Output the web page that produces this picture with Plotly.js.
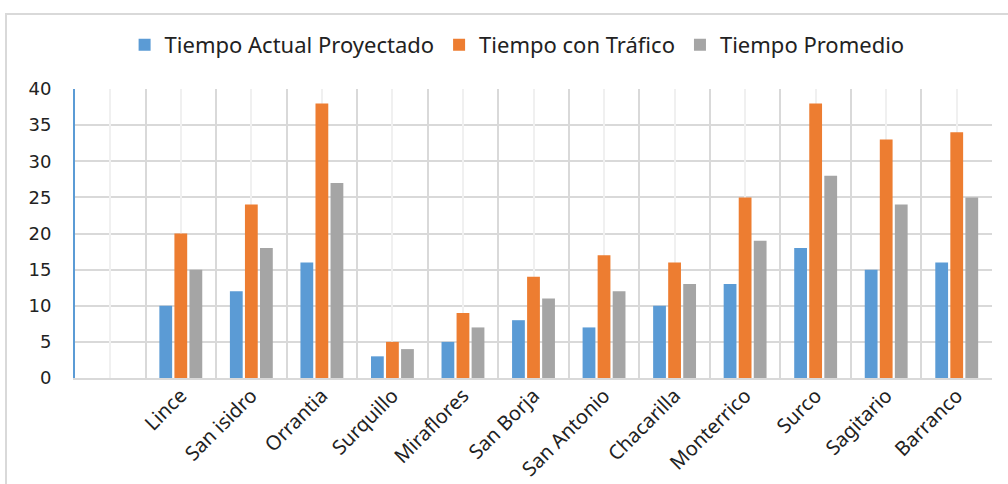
<!DOCTYPE html>
<html>
<head>
<meta charset="utf-8">
<script src="https://cdn.plot.ly/plotly-3.0.1.min.js"></script>
<style>
html,body{margin:0;padding:0;background:#fff;overflow:hidden;}
#frame{position:absolute;left:5px;top:13px;width:1100px;height:600px;border-left:2px solid #d9d9d9;border-top:2px solid #d9d9d9;}
#chart{position:absolute;left:0;top:0;width:1008px;height:484px;}
</style>
</head>
<body>
<div id="frame"></div>
<div id="chart"></div>
<script>
var categories = [" ", "Lince", "San isidro", "Orrantia", "Surquillo", "Miraflores", "San Borja", "San Antonio", "Chacarilla", "Monterrico", "Surco", "Sagitario", "Barranco"];
var tiempoActual = [null, 10, 12, 16, 3, 5, 8, 7, 10, 13, 18, 15, 16];
var tiempoTrafico = [null, 20, 24, 38, 5, 9, 14, 17, 16, 25, 38, 33, 34];
var tiempoPromedio = [null, 15, 18, 27, 4, 7, 11, 12, 13, 19, 28, 24, 25];
var seriesNames = ["Tiempo Actual Proyectado", "Tiempo con Tráfico", "Tiempo Promedio"];
var yTicks = [0, 5, 10, 15, 20, 25, 30, 35, 40];

var colors = ["#5B9BD5", "#ED7D31", "#A5A5A5"];
var series = [tiempoActual, tiempoTrafico, tiempoPromedio];
var data = series.map(function(v, i){
  return {type:"bar", x:categories, y:v, name:seriesNames[i], marker:{color:colors[i]}, hoverinfo:"skip"};
});
data.push({type:"scatter", x:categories, y:categories.map(function(){return null;}), xaxis:"x2", yaxis:"y", showlegend:false, hoverinfo:"skip", mode:"markers"});

var layout = {
  width:1008, height:484,
  paper_bgcolor:"rgba(0,0,0,0)", plot_bgcolor:"rgba(0,0,0,0)",
  margin:{l:75, r:16, t:89, b:106},
  barmode:"group", bargap:0.36, bargroupgap:0.15,
  font:{family:"Noto Sans, DejaVu Sans, sans-serif", color:"#222"},
  showlegend:true,
  legend:{orientation:"h", x:0.513, xanchor:"center", y:0.907, yanchor:"middle", xref:"container", yref:"container",
    font:{size:22, family:"Noto Sans, sans-serif", color:"#222"}, traceorder:"normal"},
  xaxis:{type:"category", categoryorder:"array", categoryarray:categories, range:[-0.5, 12.5],
    tickson:"boundaries", showgrid:true, gridcolor:"#d9d9d9", gridwidth:2,
    ticks:"", tickangle:-45, ticklabelstandoff:-4, tickfont:{size:20, family:"Noto Sans, sans-serif", color:"#222"},
    showline:true, linecolor:"#d9d9d9", linewidth:2, zeroline:false, fixedrange:true, automargin:false},
  xaxis2:{type:"category", categoryorder:"array", categoryarray:categories, range:[-0.5, 12.5], overlaying:"x",
    showgrid:true, gridcolor:"#f0f0f0", gridwidth:2, showticklabels:false, ticks:"", showline:false, zeroline:false, fixedrange:true, layer:"below traces"},
  yaxis:{range:[0, 40], tickvals:yTicks, showgrid:true, gridcolor:"#d9d9d9", gridwidth:2,
    showline:true, linecolor:"#5B9BD5", linewidth:2, zeroline:false, ticks:"", ticklabelstandoff:18,
    tickfont:{size:18, family:"DejaVu Sans, sans-serif", color:"#222"}, fixedrange:true, automargin:false}
};
Plotly.newPlot("chart", data, layout, {staticPlot:true, displayModeBar:false});
</script>
</body>
</html>
